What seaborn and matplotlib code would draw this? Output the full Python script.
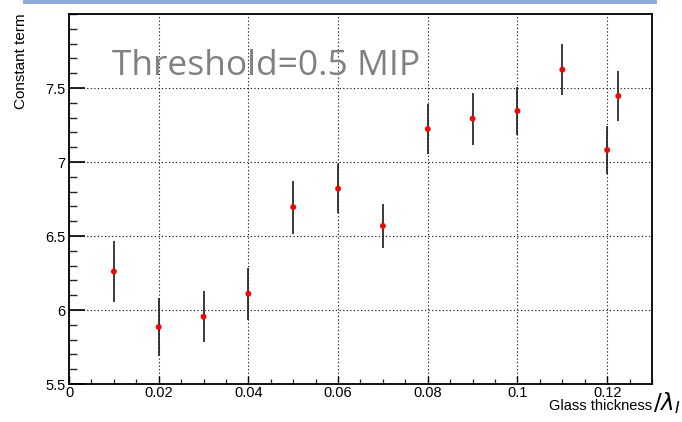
import matplotlib
matplotlib.use("Agg")
import matplotlib.pyplot as plt
import seaborn as sns
import pandas as pd
from matplotlib.ticker import MultipleLocator, FuncFormatter
from matplotlib.patches import Rectangle

# Constant term of the resolution fit vs. glass thickness (in interaction lengths)
thickness = [0.01, 0.02, 0.03, 0.04, 0.05, 0.06, 0.07, 0.08, 0.09, 0.10, 0.11, 0.12, 0.1225]
constant = [6.26, 5.885, 5.955, 6.11, 6.695, 6.82, 6.568, 7.223, 7.293, 7.345, 7.624, 7.081, 7.446]
error = [0.205, 0.197, 0.172, 0.177, 0.18, 0.165, 0.146, 0.17, 0.175, 0.165, 0.17, 0.16, 0.172]

x_ticks = [0, 0.02, 0.04, 0.06, 0.08, 0.1, 0.12]
y_ticks = [5.5, 6, 6.5, 7, 7.5]
annotation = "Threshold=0.5 MIP"

df = pd.DataFrame({"thickness": thickness, "constant": constant, "error": error})

sns.set_theme(style="white")
plt.rcParams["font.family"] = ["Liberation Sans", "DejaVu Sans"]

W, H = 682, 422
fig = plt.figure(figsize=(W / 100, H / 100), dpi=100)
ax = fig.add_axes([69 / W, 1 - 384 / H, (652 - 69) / W, (384 - 14) / H])

# error bars and points
ax.errorbar(df["thickness"], df["constant"], yerr=df["error"], fmt="none",
            ecolor="#1a1a1a", elinewidth=1.2, capsize=0, zorder=3)
sns.scatterplot(data=df, x="thickness", y="constant", ax=ax, color="#ff0000",
                s=18, edgecolor="none", zorder=4, legend=False)

ax.set_xlim(0, 0.13)
ax.set_ylim(5.5, 8.0)
ax.set_xticks(x_ticks)
ax.set_yticks(y_ticks)
ax.xaxis.set_minor_locator(MultipleLocator(0.005))
ax.yaxis.set_minor_locator(MultipleLocator(0.1))
ax.xaxis.set_major_formatter(FuncFormatter(lambda v, p: f"{v:g}"))
ax.yaxis.set_major_formatter(FuncFormatter(lambda v, p: f"{v:g}"))

ax.tick_params(axis="y", which="major", direction="in", length=11.5, width=1.2,
               left=True, right=False, labelsize=10.5, pad=2.5, colors="black")
ax.tick_params(axis="y", which="minor", direction="in", length=5.8, width=1.0,
               left=True, right=False)
ax.tick_params(axis="x", which="major", direction="in", length=6, width=1.0,
               bottom=True, top=False, labelsize=10.5, pad=1.5, colors="black")
ax.tick_params(axis="x", which="minor", direction="in", length=3.5, width=0.9,
               bottom=True, top=False)

ax.grid(True, which="major", color="black", linestyle=(0, (1, 2.2)), linewidth=0.8)
for s in ax.spines.values():
    s.set_color("black")
    s.set_linewidth(1.3)
ax.set_xlabel("")
ax.set_ylabel("")

ax.text((112 - 69) / (652 - 69), 1 - (75 - 14) / (384 - 14), annotation,
        transform=ax.transAxes, fontsize=25.5, color="#808080",
        family=["Open Sans", "DejaVu Sans"], ha="left", va="baseline", zorder=5)

fig.text(21 / W, 1 - 13 / H, "Constant term", rotation=90, ha="center", va="top",
         fontsize=11, color="black")
fig.text(652 / W, 1 - 410 / H, "Glass thickness", ha="right", va="baseline",
         fontsize=10.5, color="black")
fig.text(653 / W, 1 - 410 / H, r"$/\lambda_I$", ha="left", va="baseline",
         fontsize=16.5, color="black")

# decorative band along the top edge
fig.patches.append(Rectangle((23 / W, 1 - 4 / H), (657 - 23) / W, 4 / H,
                             transform=fig.transFigure, facecolor="#8eaadb",
                             edgecolor="none"))

fig.savefig("out.png", dpi=100)
